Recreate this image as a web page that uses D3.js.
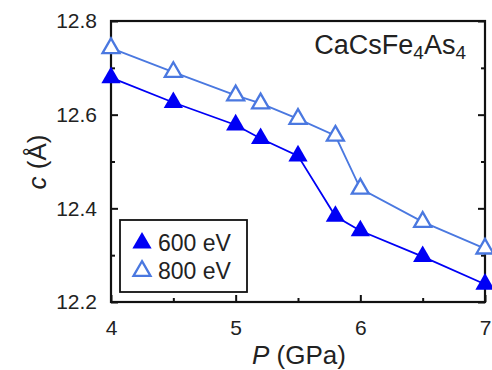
<!DOCTYPE html>
<html>
<head>
<meta charset="utf-8">
<script src="https://cdn.jsdelivr.net/npm/d3@7"></script>
<style>
  html, body { margin: 0; padding: 0; background: #fff; }
  svg { display: block; font-family: "Liberation Sans", Arial, Helvetica, sans-serif; }
</style>
</head>
<body>
<svg id="chart" width="492" height="370"></svg>
<script>
// Pressure (GPa) and lattice parameter c (Å) for two photon energies
const pressure = [4, 4.5, 5, 5.2, 5.5, 5.8, 6, 6.5, 7];
const c600 = [12.679, 12.626, 12.578, 12.549, 12.512, 12.383, 12.352, 12.297, 12.238];
const c800 = [12.742, 12.691, 12.641, 12.624, 12.591, 12.555, 12.442, 12.371, 12.314];
const seriesNames = ["600 eV", "800 eV"];
const xMajorTicks = [4, 5, 6, 7];
const xMinorTicks = [4.5, 5.5, 6.5];
const yMajorTicks = [12.2, 12.4, 12.6, 12.8];
const yMinorTicks = [12.3, 12.5, 12.7];

const svg = d3.select("#chart");
const m = { left: 111, right: 485, top: 21, bottom: 302 };
const x = d3.scaleLinear().domain([4, 7]).range([m.left, m.right]);
const y = d3.scaleLinear().domain([12.2, 12.8]).range([m.bottom, m.top]);

const colFilled = "#0000f5";
const colOpen = "#4a78e0";

// axis ticks (inward)
const gx = svg.append("g").attr("transform", `translate(0,${m.bottom})`);
gx.call(d3.axisBottom(x).tickValues(xMajorTicks).tickSize(-7).tickPadding(18).tickFormat(d3.format("d")));
const gxm = svg.append("g").attr("transform", `translate(0,${m.bottom})`);
gxm.call(d3.axisBottom(x).tickValues(xMinorTicks).tickSize(-4).tickFormat(""));

const gy = svg.append("g").attr("transform", `translate(${m.left},0)`);
gy.call(d3.axisLeft(y).tickValues(yMajorTicks).tickSize(-7).tickPadding(14).tickFormat(d3.format(".1f")));
const gym = svg.append("g").attr("transform", `translate(${m.left},0)`);
gym.call(d3.axisLeft(y).tickValues(yMinorTicks).tickSize(-4).tickFormat(""));

const gyr = svg.append("g").attr("transform", `translate(${m.right},0)`);
gyr.call(d3.axisRight(y).tickValues(yMajorTicks).tickSize(-7).tickFormat(""));
const gyrm = svg.append("g").attr("transform", `translate(${m.right},0)`);
gyrm.call(d3.axisRight(y).tickValues(yMinorTicks).tickSize(-4).tickFormat(""));

svg.selectAll(".domain").remove();
svg.selectAll(".tick line").attr("stroke", "#111").attr("stroke-width", 2);
svg.selectAll(".tick text").attr("font-size", 21).attr("fill", "#222")
  .attr("font-family", "'Liberation Sans', Arial, sans-serif");

// frame
svg.append("rect")
  .attr("x", m.left).attr("y", m.top)
  .attr("width", m.right - m.left).attr("height", m.bottom - m.top)
  .attr("fill", "none").attr("stroke", "#111").attr("stroke-width", 2.2);

// lines
const line = d3.line().x(d => x(d[0])).y(d => y(d[1]));
const d600 = pressure.map((p, i) => [p, c600[i]]);
const d800 = pressure.map((p, i) => [p, c800[i]]);

svg.append("path").datum(d800).attr("d", line)
  .attr("fill", "none").attr("stroke", colOpen).attr("stroke-width", 1.8);
svg.append("path").datum(d600).attr("d", line)
  .attr("fill", "none").attr("stroke", colFilled).attr("stroke-width", 1.8);

const triFilled = d3.symbol().type(d3.symbolTriangle).size(160);
const triOpen = d3.symbol().type(d3.symbolTriangle).size(125);

svg.append("g").selectAll("path").data(d800).join("path")
  .attr("d", triOpen)
  .attr("transform", d => `translate(${x(d[0])},${y(d[1])})`)
  .attr("fill", "#fff").attr("stroke", colOpen).attr("stroke-width", 2.3);

svg.append("g").selectAll("path").data(d600).join("path")
  .attr("d", triFilled)
  .attr("transform", d => `translate(${x(d[0])},${y(d[1])})`)
  .attr("fill", colFilled);

// compound label
const ann = svg.append("text").attr("x", 466).attr("y", 54)
  .attr("text-anchor", "end").attr("font-size", 27).attr("fill", "#222");
ann.append("tspan").text("CaCsFe");
ann.append("tspan").text("4").attr("font-size", 19).attr("dy", 5);
ann.append("tspan").text("As").attr("dy", -5);
ann.append("tspan").text("4").attr("font-size", 19).attr("dy", 5);

// legend
const lg = svg.append("g");
lg.append("rect").attr("x", 120).attr("y", 220).attr("width", 127).attr("height", 72)
  .attr("fill", "#fff").attr("stroke", "#111").attr("stroke-width", 1.8);
lg.append("path").attr("d", triFilled).attr("transform", "translate(142,243)").attr("fill", colFilled);
lg.append("path").attr("d", triOpen).attr("transform", "translate(142,271)")
  .attr("fill", "#fff").attr("stroke", colOpen).attr("stroke-width", 2.3);
lg.append("text").attr("x", 158).attr("y", 251).attr("font-size", 23).attr("fill", "#222").text(seriesNames[0]);
lg.append("text").attr("x", 158).attr("y", 279).attr("font-size", 23).attr("fill", "#222").text(seriesNames[1]);

// axis titles
const xl = svg.append("text").attr("x", 299).attr("y", 364)
  .attr("text-anchor", "middle").attr("font-size", 26).attr("fill", "#222");
xl.append("tspan").text("P").attr("font-style", "italic");
xl.append("tspan").text(" (GPa)");

const yl = svg.append("text").attr("transform", "translate(46,162) rotate(-90)")
  .attr("text-anchor", "middle").attr("font-size", 26).attr("fill", "#222");
yl.append("tspan").text("c").attr("font-style", "italic");
yl.append("tspan").text(" (Å)");
</script>
</body>
</html>
